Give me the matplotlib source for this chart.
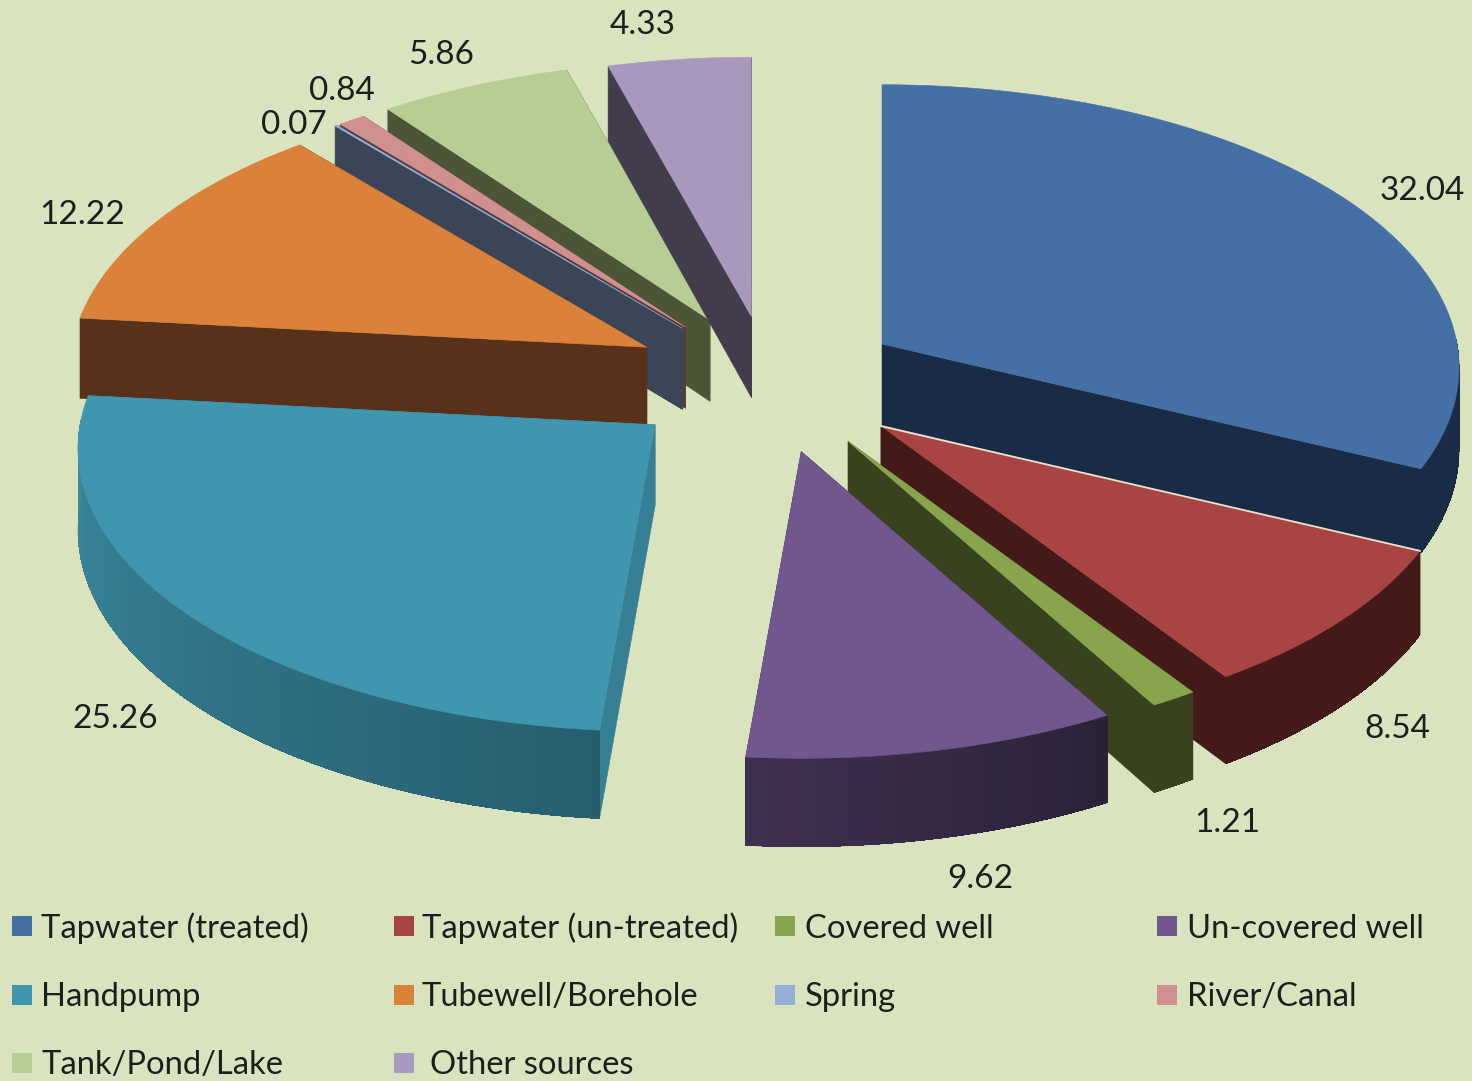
#!/usr/bin/env python3
"""Exploded 3D pie of drinking water sources, drawn as projected polygons."""

import numpy as np
import matplotlib
matplotlib.use("Agg")
import matplotlib.pyplot as plt
from matplotlib.patches import Polygon, Rectangle

sources = ["Tapwater (treated)", "Tapwater (un-treated)", "Covered well", "Un-covered well",
           "Handpump", "Tubewell/Borehole", "Spring", "River/Canal",
           "Tank/Pond/Lake", "Other sources"]
shares = [32.04, 8.54, 1.21, 9.62, 25.26, 12.22, 0.07, 0.84, 5.86, 4.33]
value_labels = ["32.04", "8.54", "1.21", "9.62", "25.26", "12.22", "0.07", "0.84", "5.86", "4.33"]

top_colors = ["#4470A6", "#A84442", "#88A44D", "#70578E", "#4096AE", "#DA813A",
              "#95B0D8", "#D09090", "#B8CD94", "#A998BD"]
wall_left = ["#1A2C45", "#431A18", "#38421E", "#40304F", "#3B89A0", "#58311A",
             "#3A4558", "#5A3A3A", "#4C5637", "#433C4D"]
wall_right = ["#1A2C45", "#431A18", "#38421E", "#2B2238", "#265E6E", "#58311A",
              "#3A4558", "#5A3A3A", "#4C5637", "#433C4D"]
cut_colors = ["#1A2C45", "#431A18", "#38421E", "#2B2238", "#367F95", "#58311A",
              "#3A4558", "#5A3A3A", "#4C5637", "#433C4D"]

# back to front
draw_order = [8, 9, 7, 6, 5, 4, 0, 1, 2, 3]

# layout, in reference pixels
BG = "#D9E4BF"
CX, CY = 769, 379
RX, RY = 575, 281
PERSP = 0.0836
DEPTH = 81
explode = [0.243, 0.243, 0.243, 0.243, 0.243, 0.25, 0.25, 0.25, 0.25, 0.243]

label_xy = [(1422, 189), (1397, 726), (1227, 820), (980, 877), (115, 716),
            (82, 213), (294, 123), (342, 88), (441, 52), (643, 22)]
legend_swatch_x = [12, 394, 775, 1157]
legend_text_x = [41, 422, 805, 1187]
legend_y = [926, 995, 1063]
TEXT_DY = 2.5


def project(theta):
    s = 1 + PERSP * np.sin(theta)
    return RX * np.cos(theta) / s, -RY * np.sin(theta) / s


def blend(c1, c2, t):
    a = np.array(matplotlib.colors.to_rgb(c1))
    b = np.array(matplotlib.colors.to_rgb(c2))
    return tuple(a + (b - a) * t)


def fill(ax, pts, color, z, aa=True):
    lw = 0.4 if aa else 0
    ax.add_patch(Polygon(pts, closed=True, facecolor=color, edgecolor=color, linewidth=lw,
                         antialiased=aa, zorder=z))


def draw_slice(ax, i, start, stop, z):
    mid = (start + stop) / 2
    ox, oy = project(mid)
    ax0, ay0 = CX + explode[i] * ox, CY + explode[i] * oy

    th = np.linspace(start, stop, max(int(abs(stop - start) * 90), 4))
    px, py = project(th)
    rim_x, rim_y = ax0 + px, ay0 + py
    drop = DEPTH / (1 + PERSP * np.sin(th))

    # two cut faces
    for k in (0, -1):
        fill(ax, [(ax0, ay0), (rim_x[k], rim_y[k]), (rim_x[k], rim_y[k] + drop[k]), (ax0, ay0 + DEPTH)],
             cut_colors[i], z)

    # outer wall, only where it faces the viewer
    front = np.where(np.sin(th) < 0.02)[0]
    if len(front) > 1:
        upper = list(zip(rim_x[front], rim_y[front]))
        lower = list(zip(rim_x[front], rim_y[front] + drop[front]))
        fill(ax, upper + lower[::-1], blend(wall_left[i], wall_right[i], 0.5), z)
        for n, j in enumerate(front[:-1]):
            t = 1 - n / (len(front) - 2) if len(front) > 2 else 0.5
            fill(ax, [(rim_x[j], rim_y[j]), (rim_x[j + 1], rim_y[j + 1]),
                      (rim_x[j + 1], rim_y[j + 1] + drop[j + 1]), (rim_x[j], rim_y[j] + drop[j])],
                 blend(wall_left[i], wall_right[i], t), z, aa=False)

    top = [(ax0, ay0)] + list(zip(rim_x, rim_y))
    fill(ax, top, top_colors[i], z + 0.5)


def main():
    plt.rcParams["font.family"] = ["Lato", "DejaVu Sans"]
    fig = plt.figure(figsize=(14.72, 10.81), dpi=100, facecolor=BG)
    ax = fig.add_axes([0, 0, 1, 1])
    ax.set_xlim(0, 1472)
    ax.set_ylim(1081, 0)
    ax.axis("off")

    # slices run clockwise from 12 o'clock
    edges = np.pi / 2 - 2 * np.pi * np.cumsum([0] + shares) / 100.0
    for z, i in enumerate(draw_order):
        draw_slice(ax, i, edges[i], edges[i + 1], z * 2 + 1)

    # thin highlight between the two blue/red slices
    s0, s1 = edges[1], edges[2]
    ox, oy = project((s0 + s1) / 2)
    ex, ey = project(s0)
    ax.plot([CX + explode[1] * ox, CX + explode[1] * ox + ex], [CY + explode[1] * oy, CY + explode[1] * oy + ey],
            color="#E6E4D0", lw=1.3, zorder=40)

    for txt, (x, y) in zip(value_labels, label_xy):
        ax.text(x, y + TEXT_DY, txt, fontsize=24, color="#1E1E1E", ha="center", va="center", zorder=50)

    for n, name in enumerate(sources):
        row, col = n // 4, n % 4
        y = legend_y[row]
        ax.add_patch(Rectangle((legend_swatch_x[col], y - 10), 20, 20, facecolor=top_colors[n],
                               edgecolor="none", zorder=50))
        x = legend_text_x[col] + (8 if name == "Other sources" else 0)
        ax.text(x, y + TEXT_DY, name, fontsize=23.6, color="#1E1E1E", ha="left", va="center", zorder=50)

    fig.savefig("out.png", dpi=100, facecolor=BG)


if __name__ == "__main__":
    main()
